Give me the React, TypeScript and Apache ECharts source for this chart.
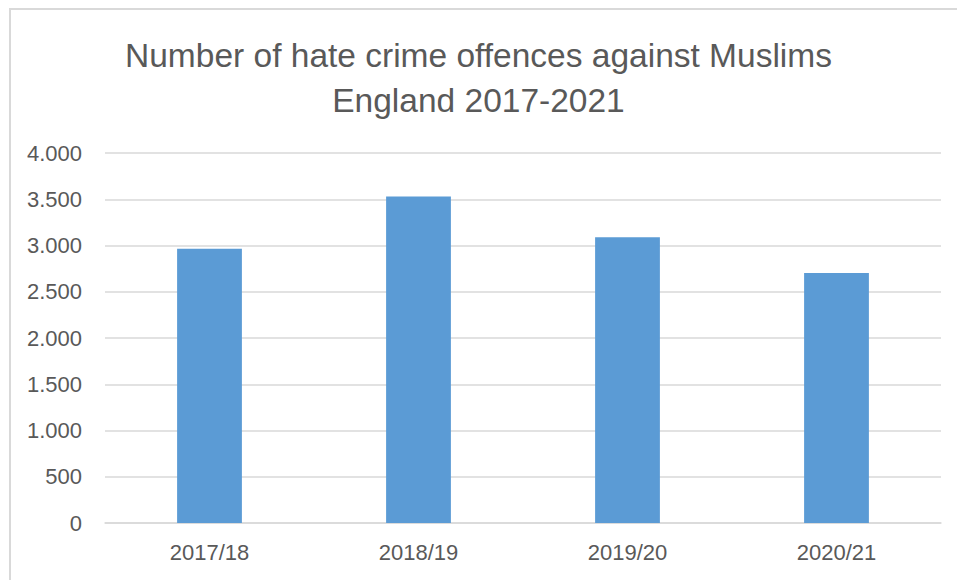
import React, { useEffect, useRef } from "react";
import * as echarts from "echarts";

const titleLines = ["Number of hate crime offences against Muslims", "England 2017-2021"];
const categories = ["2017/18", "2018/19", "2019/20", "2020/21"];
const offences = [2965, 3530, 3089, 2703];
const yMin = 0;
const yMax = 4000;
const yInterval = 500;

const fmt = (v: number) => String(v).replace(/\B(?=(\d{3})+(?!\d))/g, ".");

export default function App() {
  const ref = useRef<HTMLDivElement>(null);
  useEffect(() => {
    if (!ref.current) return;
    const chart = echarts.init(ref.current, null, { renderer: "svg" });
    chart.setOption({
      animation: false,
      backgroundColor: "#ffffff",
      textStyle: { fontFamily: "Liberation Sans" },
      title: {
        text: titleLines.join("\n"),
        left: "center",
        top: 28,
        textStyle: {
          fontFamily: "Liberation Sans",
          fontSize: 33.5,
          fontWeight: "normal",
          color: "#595959",
          lineHeight: 45,
        },
      },
      graphic: [
        { type: "line", shape: { x1: 10, y1: 9, x2: 10, y2: 580 }, style: { stroke: "#d9d9d9", lineWidth: 2 } },
        { type: "line", shape: { x1: 9, y1: 9, x2: 957, y2: 9 }, style: { stroke: "#d9d9d9", lineWidth: 2 } },
      ],
      grid: { left: 105, right: 16, top: 153, bottom: 57, containLabel: false },
      xAxis: {
        type: "category",
        data: categories,
        axisLine: { show: true, lineStyle: { color: "#d9d9d9", width: 1.5 } },
        axisTick: { show: false },
        axisLabel: { color: "#595959", fontSize: 22, margin: 18, fontFamily: "Liberation Sans" },
      },
      yAxis: {
        type: "value",
        min: yMin,
        max: yMax,
        interval: yInterval,
        axisLine: { show: false },
        axisTick: { show: false },
        splitLine: { lineStyle: { color: "#d9d9d9", width: 1.5 } },
        axisLabel: {
          color: "#595959",
          fontSize: 22,
          margin: 23,
          fontFamily: "Liberation Sans",
          formatter: (v: number) => fmt(v),
        },
      },
      series: [
        {
          type: "bar",
          data: offences,
          barWidth: "31%",
          itemStyle: { color: "#5b9bd5" },
        },
      ],
    });
    return () => chart.dispose();
  }, []);
  return <div ref={ref} style={{ position: "fixed", left: 0, top: 0, width: 957, height: 580 }} />;
}
